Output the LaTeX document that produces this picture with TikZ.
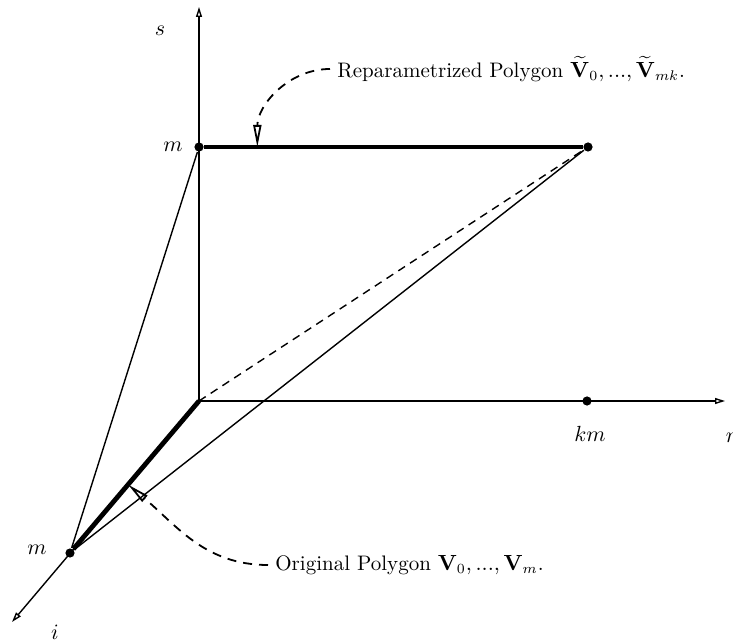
\documentclass[tikz,border=0pt]{standalone}
\usepackage{amsmath,amssymb}
\usetikzlibrary{arrows.meta,calc}

\begin{document}
\begin{tikzpicture}[x=0.5pt, y=-0.5pt, line width=0.7pt,
  font=\fontsize{10.5pt}{12pt}\selectfont,
  axis/.style={-{Triangle[open,length=5pt,width=3pt]}},
  edge/.style={line width=2.4pt},
  dot/.style={circle, fill, inner sep=0pt, minimum size=4.6pt},
  note/.style={line width=0.9pt, dash pattern=on 4.5pt off 3.5pt,
               -{Triangle[open,length=11pt,width=4pt]}}]

\useasboundingbox (0,0) rectangle (733,641);

% axes s, r, i
\coordinate (O)    at (199,401);
\coordinate (sEnd) at (199,7);
\coordinate (rEnd) at (725,401);
\coordinate (iEnd) at (12,622);

\node[dot] (ms)  at (199,147) {};
\node[dot] (mi)  at (70,553)  {};
\node[dot] (km)  at (587,401) {};
\node[dot] (top) at (588,147) {};

\draw[axis] (O) -- (sEnd);
\draw[axis] (O) -- (rEnd);
\draw[axis] (O) -- (iEnd);

\node (sLab)  at (160,31)  {$s$};
\node (rLab)  at (731,438) {$r$};
\node (iLab)  at (55,632)  {$i$};
\node (msLab) at (173,147) {$m$};
\node (miLab) at (37,550)  {$m$};
\node (kmLab) at (590,434) {$km$};

\draw (ms) -- (mi);
\draw (mi) -- (top);
\draw[dash pattern=on 4pt off 3pt] (O) -- (top);

% the two polygons
\draw[edge] (ms) -- (top);
\draw[edge] (mi) -- (O);

\node[anchor=west] (repar) at (330,69)
  {Reparametrized Polygon $\widetilde{\mathbf{V}}_0, ..., \widetilde{\mathbf{V}}_{mk}$.};
\node[anchor=west] (orig) at (268,565)
  {Original Polygon $\mathbf{V}_0, ..., \mathbf{V}_m$.};

\draw[note] (repar.west) to[out=180,in=90] ($(ms)!0.15!(top)$);
\draw[note] (orig.west) to[out=180,in=-40] ($(mi)!0.45!(O)$);

\end{tikzpicture}
\end{document}
